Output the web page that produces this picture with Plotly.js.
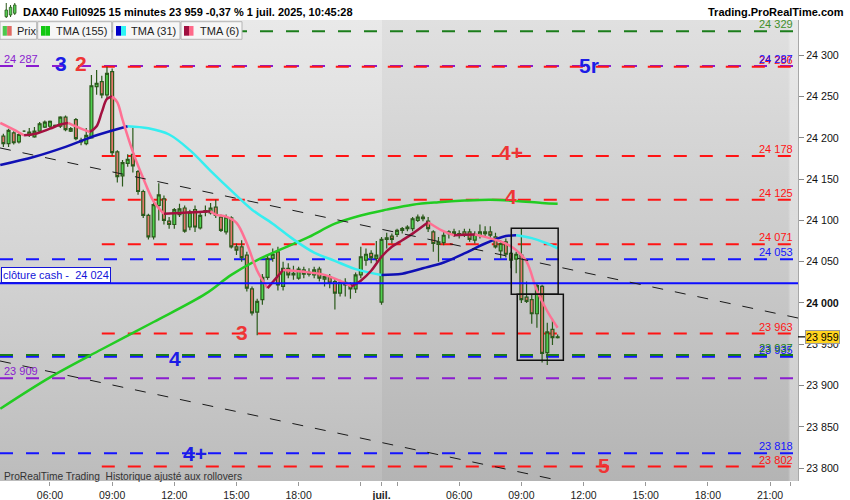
<!DOCTYPE html>
<html><head><meta charset="utf-8">
<script src="https://cdn.plot.ly/plotly-3.0.1.min.js"></script>
<style>
html,body{margin:0;padding:0;background:#fff;}
#wrap{position:relative;width:850px;height:500px;background:#fff;overflow:hidden;}
#bgJun{position:absolute;left:0;top:20px;width:382px;height:461px;background:linear-gradient(to bottom,#e9e9e9 0%,#d5d5d5 50%,#bcbcbc 100%);}
#bgJul{position:absolute;left:382px;top:20px;width:416px;height:461px;background:linear-gradient(to right,rgba(255,255,255,0) 0%,rgba(255,255,255,0) 97.6%,rgba(255,255,255,0.3) 98.2%),linear-gradient(to bottom,#e0e0e0 0%,#cbcbcb 50%,#b4b4b4 100%);}
#chart{position:absolute;left:0;top:0;width:850px;height:500px;}
</style></head>
<body><div id="wrap"><div id="bgJun"></div><div id="bgJul"></div><div id="chart"></div></div>
<script>
// ---------- DATA ----------
const opens  = [24202,24193,24206,24195,24208,24203,24201,24208,24213,24214,24215,24214,24225,24208,24222,24195,24193,24200,24262,24268,24252,24280,24183,24154,24169,24180,24159,24135,24106,24080,24118,24126,24099,24095,24107,24115,24092,24113,24091,24110,24109,24116,24104,24086,24103,24068,24068,24058,24017,23989,24004,24031,24054,24062,24020,24042,24034,24030,24040,24035,24034,24041,24029,24032,24026,24012,24025,24022,24017,24034,24052,24060,24054,24001,24077,24081,24083,24088,24090,24090,24100,24102,24099,24086,24071,24073,24084,24086,24084,24086,24086,24076,24082,24086,24086,24080,24063,24074,24060,24053,24058,24007,24004,23987,24020,23940,23968,23958];
const highs  = [24205,24211,24208,24206,24209,24212,24213,24219,24221,24221,24216,24226,24227,24213,24224,24200,24212,24276,24282,24275,24286,24284,24185,24173,24180,24212,24161,24137,24108,24121,24145,24130,24104,24115,24120,24118,24113,24118,24110,24118,24121,24125,24107,24107,24105,24072,24076,24062,24020,24005,24035,24058,24066,24068,24050,24048,24045,24044,24044,24042,24044,24044,24035,24035,24030,24028,24030,24025,24037,24068,24066,24064,24075,24080,24085,24084,24090,24092,24094,24104,24107,24107,24104,24088,24080,24086,24088,24090,24088,24090,24090,24087,24095,24093,24093,24085,24076,24078,24062,24062,24090,24026,24010,24024,24022,23976,23981,23962];
const lows   = [24189,24189,24192,24193,24207,24201,24200,24206,24212,24212,24213,24212,24208,24207,24197,24191,24191,24199,24252,24248,24248,24178,24146,24141,24165,24158,24131,24103,24077,24077,24100,24095,24090,24090,24104,24085,24088,24086,24089,24105,24107,24103,24086,24083,24066,24058,24050,24014,23985,23961,23998,24028,24050,24015,24015,24030,24028,24028,24030,24032,24030,24026,24020,24018,23992,24008,24008,24005,24012,24030,24045,24048,24050,23998,24066,24072,24080,24084,24087,24087,24098,24099,24086,24062,24050,24070,24078,24080,24078,24080,24074,24072,24078,24080,24078,24066,24054,24055,24042,24036,24000,24000,23975,23970,23928,23925,23949,23957];
const closes = [24193,24209,24194,24204,24208,24207,24208,24217,24219,24220,24214,24225,24210,24211,24199,24197,24203,24263,24266,24252,24278,24182,24153,24170,24174,24166,24135,24106,24080,24119,24131,24100,24095,24113,24114,24087,24110,24092,24106,24112,24115,24106,24088,24104,24068,24064,24055,24018,23988,24002,24031,24054,24059,24022,24042,24034,24036,24041,24035,24037,24040,24030,24032,24024,24012,24025,24022,24017,24034,24056,24059,24055,24058,24077,24079,24077,24088,24090,24092,24102,24104,24104,24090,24072,24074,24082,24086,24084,24083,24082,24077,24083,24086,24084,24082,24068,24072,24059,24052,24059,24004,24002,23987,24021,23939,23965,23958,23959];

const tma155Bars = [0.4,10,20,30,40,45,50,55,60,65,70,75,80,85,90,95,100,105,108];
const tma155Vals = [23872,23910,23944,23977,24011,24034,24052,24066,24080,24096,24106,24113,24119,24122,24124,24125,24123.5,24121,24120];

const tma31Bars = [0.4,7,13,19,25,29,33,37,41,45,49,53,57,61,65,69,74,78,82,86,90,94,98,100,103,106,108];
const tma31Vals = [24167,24177,24189,24203,24214,24211.5,24204,24185,24160,24136,24113,24096,24077,24061,24051,24041,24034,24035.5,24042,24049,24060,24072,24081,24082,24078.5,24072,24066];

const tma6Bars = [0.4,3,5,7,10,12,13.5,16,17.7,19,20,21,22,23,24,26,28,30,32,35,38,41,42,44,46,48,50,52,55,58.6,63,67,68.2,70,72,74,76,78,80,83,85.6,88,90,92,94,98,100,102,104,106,108];
const tma6Vals = [24218,24210,24203,24204.5,24211,24216,24218,24211,24207,24214,24231,24247,24250,24243,24222,24183,24151,24123,24108,24109,24110,24111,24107,24104.5,24097,24072,24039,24018,24040,24038,24034,24024,24020,24027,24039,24056,24068,24076,24084,24097.7,24088,24082,24082.5,24083,24080,24072,24064,24050,24015,23990,23970];

const levelPrices = [24329,24287,24286,24178,24125,24071,24053,23963,23935,23937,23909,23818,23802];
const levelKinds  = ['green','purple','red','red','red','red','blue','red','blue','green','purple','blue','red'];
const levelStart  = [0.35,0.35,20,20,20,20,0.35,20,0.35,0.35,0.35,0.35,20];
const cashPrice = 24024;

const rightLabelTexts  = ['24 329','24 286','24 287','24 178','24 125','24 071','24 053','23 963','23 935','23 937','23 818','23 802'];
const rightLabelPrices = [24329,24286,24287,24178,24125,24071,24053,23963,23935,23937,23818,23802];
const rightLabelKinds  = ['olive','red','blue','red','red','red','blue','red','blue','green','blue','red'];
const leftLabelTexts  = ['24 287','23 909'];
const leftLabelPrices = [24287,23909];

const tagTexts  = ['3','2','5r','4+','4','3','4','4+','5'];
const tagBars   = [12.1,16.0,114.05,99.0,99.0,47.1,34.1,38.0,117.0];
const tagPrices = [24289.4,24289.4,24287,24181.6,24129.5,23963.7,23933.4,23817.2,23802.7];
const tagKinds  = ['blue','red','blue','red','red','red','blue','blue','red'];

const trendBars   = [[0.35,154.4],[0.35,107.5]];
const trendPrices = [[24187.7,23981.8],[23929.8,23786.2]];
const boxBars   = [[99.05,108.1],[100.2,109.1]];
const boxPrices = [[24010.5,24090.4],[23930.6,24010.5]];

const xTickBars   = [10,22,34,46,58,70,74,77,89,101,113,125,137,149,153];
const xTickLabels = ['06:00','09:00','12:00','15:00','18:00','','<b>juil.</b>','','06:00','09:00','12:00','15:00','18:00','21:00',''];
const yTickVals  = [23800,23850,23900,23950,24000,24050,24100,24150,24200,24250,24300];
const yTickText  = ['23 800','23 850','23 900','23 950','<b>24 000</b>','24 050','24 100','24 150','24 200','24 250','24 300'];

const lastPrice = 23959;
const titleText = 'DAX40 Full0925 15 minutes 23 959 -0,37 % 1 juil. 2025, 10:45:28';
const siteText = 'Trading.ProRealTime.com';
const footText = 'ProRealTime Trading\u00a0\u00a0Historique ajusté aux rollovers';
const cashText = 'clôture cash -\u00a0\u00a024 024';
const legendTexts = ['Prix','TMA (155)','TMA (31)','TMA (6)'];

// ---------- STYLE ----------
const F = '"Liberation Sans", Arial, sans-serif';
const COL = {green:'#1b7d1b', purple:'#8a1ccf', red:'#ff1414', blue:'#1414ff', olive:'#3f8f2a'};
const TAGCOL = {red:'#ee3535', blue:'#1c1ce6'};
const X_RANGE = [0.35, 154.4];
const Y_RANGE = [23784.5, 24342.6];
const W = 798, H = 461, TOP = 20;
const px = x => x / W;
const py = y => (TOP + H - y) / H;

const bars = opens.map((_, i) => i + 1);
const traces = [];

traces.push({type:'scatter', mode:'lines', x:tma155Bars, y:tma155Vals, line:{color:'#22cc22', width:2.5, shape:'spline'}, hoverinfo:'skip'});

traces.push({
  type:'candlestick', x:bars, open:opens, high:highs, low:lows, close:closes,
  increasing:{fillcolor:'#4fd14f', line:{color:'#2b5a1b', width:1.2}},
  decreasing:{fillcolor:'#e3776c', line:{color:'#2b5a1b', width:1.2}},
  whiskerwidth:0, hoverinfo:'skip'
});

function runs(xs, ys, upC, downC, w) {
  const out = []; let start = 0;
  const up = i => ys[i + 1] >= ys[i];
  for (let i = 0; i < xs.length - 1; i++) {
    const last = (i === xs.length - 2);
    if (last || up(i + 1) !== up(i)) {
      out.push({type:'scatter', mode:'lines', x:xs.slice(start, i + 2), y:ys.slice(start, i + 2),
        line:{color: up(i) ? upC : downC, width:w, shape:'spline'}, hoverinfo:'skip'});
      start = i + 1;
    }
  }
  return out;
}
traces.push(...runs(tma31Bars, tma31Vals, '#1010b4', '#35eef0', 2.5));
traces.push(...runs(tma6Bars, tma6Vals, '#a3103f', '#ff7093', 2.5));

const shapes = [];
levelPrices.forEach((p, k) => {
  shapes.push({type:'line', xref:'x', yref:'y', x0:levelStart[k], x1:X_RANGE[1], y0:p, y1:p,
    line:{color:COL[levelKinds[k]], width:2, dash:'13px,13px'}, layer:'below'});
});
shapes.push({type:'line', xref:'x', yref:'y', x0:X_RANGE[0], x1:X_RANGE[1], y0:cashPrice, y1:cashPrice,
  line:{color:'#0d0dff', width:2}, layer:'above'});
trendBars.forEach((b, k) => {
  shapes.push({type:'line', xref:'x', yref:'y', x0:b[0], x1:b[1], y0:trendPrices[k][0], y1:trendPrices[k][1],
    line:{color:'#1a1a1a', width:1, dash:'11px,12px'}, layer:'above'});
});
boxBars.forEach((b, k) => {
  shapes.push({type:'rect', xref:'x', yref:'y', x0:b[0], x1:b[1], y0:boxPrices[k][0], y1:boxPrices[k][1],
    line:{color:'#111', width:1.5}, fillcolor:'rgba(0,0,0,0)', layer:'above'});
});
// current price tick
shapes.push({type:'line', xref:'paper', yref:'y', x0:px(798), x1:px(805), y0:lastPrice, y1:lastPrice, line:{color:'#000', width:1.2}});

// legend boxes
const legBoxes = [[0,36.7],[37.7,111.7],[112.7,180],[181,242]];
legBoxes.forEach(b => shapes.push({type:'rect', xref:'paper', yref:'paper', x0:px(b[0]), x1:px(b[1]), y0:py(39.3), y1:py(21.7),
  fillcolor:'#f6f6f6', line:{color:'#b4b4b4', width:1}, layer:'above'}));
const legIcons = [[2.7,6.9,'#4cc84c'],[7.1,11.7,'#e06a62'],[41,45.5,'#12c812'],[45.5,50,'#12c812'],[116,121,'#0000c8'],[121,126,'#2ef4f4'],[184,189,'#a01040'],[189,193.5,'#ff6a8a']];
legIcons.forEach(r => shapes.push({type:'rect', xref:'paper', yref:'paper', x0:px(r[0]), x1:px(r[1]), y0:py(35.7), y1:py(26),
  fillcolor:r[2], line:{width:0}, layer:'above'}));
// title icon
const icon = [[5,7.5,10,16.7,3,18],[9.3,11.8,7.3,15,5,17],[13.5,16,5,13.3,3,15]];
icon.forEach(c => {
  const mid = (c[0] + c[1]) / 2;
  shapes.push({type:'line', xref:'paper', yref:'paper', x0:px(mid), x1:px(mid), y0:py(c[5]), y1:py(c[4]), line:{color:'#2b5a1b', width:1}});
  shapes.push({type:'rect', xref:'paper', yref:'paper', x0:px(c[0]), x1:px(c[1]), y0:py(c[3]), y1:py(c[2]), fillcolor:'#55cc55', line:{color:'#2b5a1b', width:0.8}});
});

const annotations = [];
const A = (o) => annotations.push(Object.assign({showarrow:false}, o));
A({xref:'paper', yref:'paper', x:px(21), y:py(12), xanchor:'left', yanchor:'middle', text:'<b>' + titleText + '</b>', font:{family:F, size:11, color:'#000'}});
A({xref:'paper', yref:'paper', x:px(846), y:py(12), xanchor:'right', yanchor:'middle', text:'<b>' + siteText + '</b>', font:{family:F, size:11, color:'#000'}});
A({xref:'paper', yref:'paper', x:px(2), y:py(476), xanchor:'left', yanchor:'middle', text:footText, font:{family:F, size:10.2, color:'#333'}});
const legX = [15, 54, 129, 198];
legendTexts.forEach((t, k) => A({xref:'paper', yref:'paper', x:px(legX[k]), y:py(30.8), xanchor:'left', yanchor:'middle', text:t, font:{family:F, size:11, color:'#222'}}));
rightLabelTexts.forEach((t, k) => A({xref:'paper', yref:'y', x:px(795), y:rightLabelPrices[k], xanchor:'right', yanchor:'bottom', yshift:-1,
  text:t, font:{family:F, size:11, color:COL[rightLabelKinds[k]]}}));
leftLabelTexts.forEach((t, k) => A({xref:'paper', yref:'y', x:px(2), y:leftLabelPrices[k], xanchor:'left', yanchor:'bottom', yshift:-1,
  text:t, font:{family:F, size:11, color:COL.purple}}));
tagTexts.forEach((t, k) => A({xref:'x', yref:'y', x:tagBars[k], y:tagPrices[k], xanchor:'center', yanchor:'middle',
  text:'<b>' + t + '</b>', font:{family:F, size:21, color:TAGCOL[tagKinds[k]]}}));
A({xref:'paper', yref:'y', x:px(0.5), y:cashPrice, yshift:8, xanchor:'left', yanchor:'middle', text:cashText,
  font:{family:F, size:11, color:'#1414d8'}, bgcolor:'#ffffff', bordercolor:'#1414d8', borderwidth:1, borderpad:1});
A({xref:'paper', yref:'y', x:px(805), y:lastPrice, xanchor:'left', yanchor:'middle', text:'23 959',
  font:{family:F, size:10.7, color:'#000'}, bgcolor:'#ffd41f', bordercolor:'#9a9a9a', borderwidth:1, borderpad:0});

const layout = {
  width:850, height:500,
  margin:{l:0, r:52, t:20, b:19, pad:0},
  paper_bgcolor:'rgba(0,0,0,0)', plot_bgcolor:'rgba(0,0,0,0)',
  showlegend:false,
  boxgap:0.2,
  xaxis:{range:X_RANGE, tickmode:'array', tickvals:xTickBars, ticktext:xTickLabels, ticks:'outside', ticklen:4, tickcolor:'#999',
    showgrid:false, zeroline:false, showline:false, automargin:false, rangeslider:{visible:false},
    tickfont:{family:F, size:10.5, color:'#222'}},
  yaxis:{side:'right', range:Y_RANGE, tickmode:'array', tickvals:yTickVals, ticktext:yTickText, ticks:'outside', ticklen:5, tickcolor:'#888',
    showgrid:false, zeroline:false, showline:true, linecolor:'#a8a8a8', automargin:false,
    tickfont:{family:F, size:10.7, color:'#111'}},
  shapes:shapes, annotations:annotations
};
Plotly.newPlot('chart', traces, layout, {staticPlot:true, displayModeBar:false});
</script></body></html>
